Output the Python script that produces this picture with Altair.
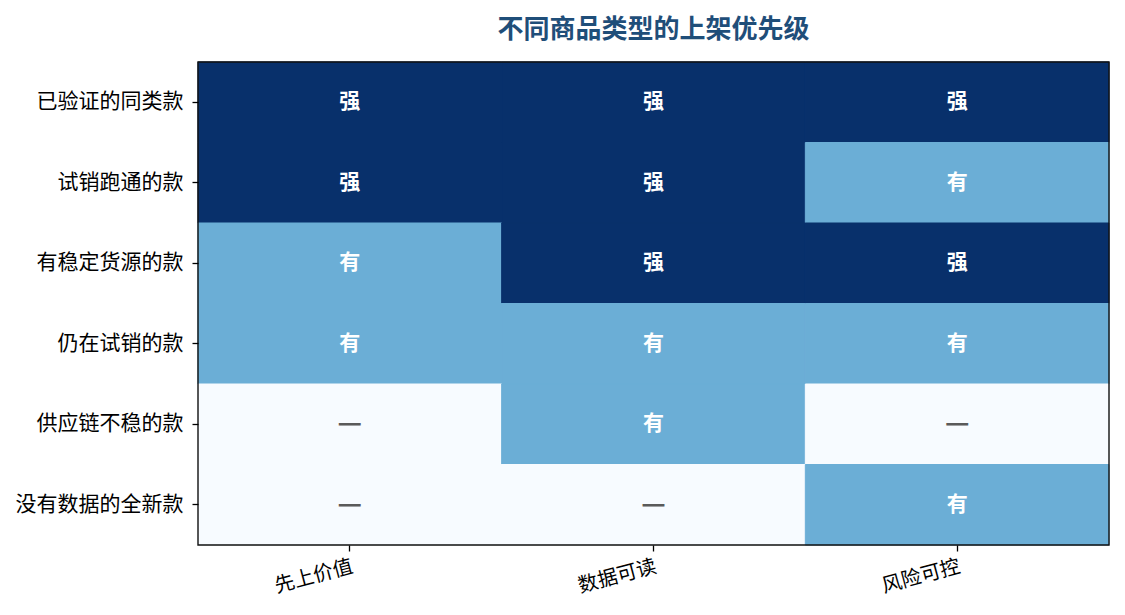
import altair as alt
import pandas as pd

rows = ["已验证的同类款", "试销跑通的款", "有稳定货源的款", "仍在试销的款", "供应链不稳的款", "没有数据的全新款"]
cols = ["先上价值", "数据可读", "风险可控"]
# 2 = 强, 1 = 有, 0 = —
levels = [
    [2, 2, 2],
    [2, 2, 1],
    [1, 2, 2],
    [1, 1, 1],
    [0, 1, 0],
    [0, 0, 1],
]
label_map = {2: "强", 1: "有", 0: "—"}

W, H = 911, 483

records = []
for r, row in zip(rows, levels):
    for c, v in zip(cols, row):
        records.append({"row": r, "col": c, "level": v, "label": label_map[v],
                        "txtcolor": "dark" if v == 0 else "light",
                        "fsize": 27 if v == 0 else 21})
df = pd.DataFrame(records)

FONT = "Noto Sans CJK SC"

base = alt.Chart(df).encode(
    x=alt.X("col:N", sort=cols, title=None,
            axis=alt.Axis(labelAngle=-15, labelAlign="right", labelBaseline="top",
                          labelFontSize=20, labelColor="#000", tickSize=6, tickColor="#000",
                          tickWidth=1.3, labelPadding=5, domain=False, labelFont=FONT)),
    y=alt.Y("row:N", sort=rows, title=None,
            axis=alt.Axis(labelFontSize=21, labelColor="#000", tickSize=6, tickColor="#000",
                          tickWidth=1.3, labelPadding=9, domain=False, labelFont=FONT)),
)

cscale = alt.Scale(domain=[0, 1, 2], range=["#f7fbff", "#6baed6", "#08306b"])
heat = base.mark_rect(strokeWidth=1).encode(
    color=alt.Color("level:Q", scale=cscale, legend=None),
    stroke=alt.Stroke("level:Q", scale=cscale, legend=None),
)

text = base.mark_text(fontWeight="bold", font=FONT).encode(
    text="label:N",
    size=alt.Size("fsize:Q", scale=None, legend=None),
    color=alt.Color("txtcolor:N", scale=alt.Scale(domain=["dark", "light"],
                                                  range=["#5a5a5a", "#ffffff"]),
                    legend=None),
)

frame = alt.Chart(pd.DataFrame({"f": [0]})).mark_rect(
    filled=False, stroke="#111111", strokeWidth=1.4
).encode(x=alt.value(0), x2=alt.value(W), y=alt.value(0), y2=alt.value(H))

chart = (heat + text + frame).resolve_scale(color="independent").properties(
    width=W, height=H,
    title=alt.TitleParams("不同商品类型的上架优先级", fontSize=26, fontWeight="bold",
                          color="#1f4e79", font=FONT, offset=18, anchor="middle"),
    autosize=alt.AutoSizeParams(type="none"),
    padding={"left": 190, "top": 54, "right": 8, "bottom": 62},
).configure_view(stroke=None).configure_scale(bandPaddingInner=0, bandPaddingOuter=0)

chart.save("out.html", embed_options={"renderer": "svg", "actions": False})
